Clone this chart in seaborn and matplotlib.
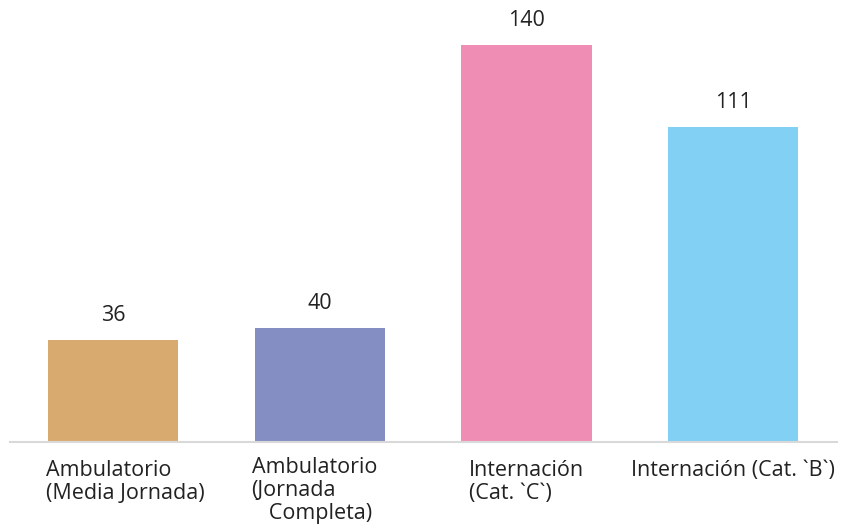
import matplotlib
matplotlib.use("Agg")
import matplotlib.pyplot as plt
import matplotlib.transforms as mtransforms
import seaborn as sns
import pandas as pd

# Cantidad por tipo de atención
categorias = [
    "Ambulatorio\n(Media Jornada)",
    "Ambulatorio\n(Jornada\n   Completa)",
    "Internación\n(Cat. `C`)",
    "Internación (Cat. `B`)",
]
valores = [36, 40, 140, 111]
colores = ["#D8AA70", "#858EC3", "#F08DB4", "#82D0F4"]

sns.set_theme(style="white")
plt.rcParams["font.family"] = ["Open Sans", "DejaVu Sans"]

df = pd.DataFrame({"categoria": categorias, "valor": valores})

fig = plt.figure(figsize=(8.62, 5.28), dpi=100)
ax = fig.add_axes([9.7 / 862, (528 - 441.7) / 528, 827 / 862, 425.4 / 528])

sns.barplot(data=df, x="categoria", y="valor", hue="categoria",
            palette=colores, width=0.63, saturation=1, legend=False,
            linewidth=0, ax=ax)

for cont in ax.containers:
    ax.bar_label(cont, padding=10, fontsize=15.5, color="#222222")

ax.set_xlim(-0.5, 3.5)
ax.set_ylim(0, 150)
ax.set_xlabel("")
ax.set_ylabel("")
ax.set_yticks([])
for s in ["top", "right", "left"]:
    ax.spines[s].set_visible(False)
ax.spines["bottom"].set_color("#D9D9D9")
ax.spines["bottom"].set_linewidth(1.5)
ax.tick_params(axis="x", length=0, pad=13, labelsize=15.5, labelcolor="#222222")

# small horizontal nudges for the wrapped labels
desplazamientos = [(9, 0), (-4, 2), (0, 0), (0, 0)]
for t, (dx, dy) in zip(ax.get_xticklabels(), desplazamientos):
    t.set_multialignment("left")
    t.set_linespacing(1.12)
    off = mtransforms.ScaledTranslation(dx / 72, dy / 72, fig.dpi_scale_trans)
    t.set_transform(t.get_transform() + off)

fig.savefig("out.png", dpi=100, facecolor="white")
